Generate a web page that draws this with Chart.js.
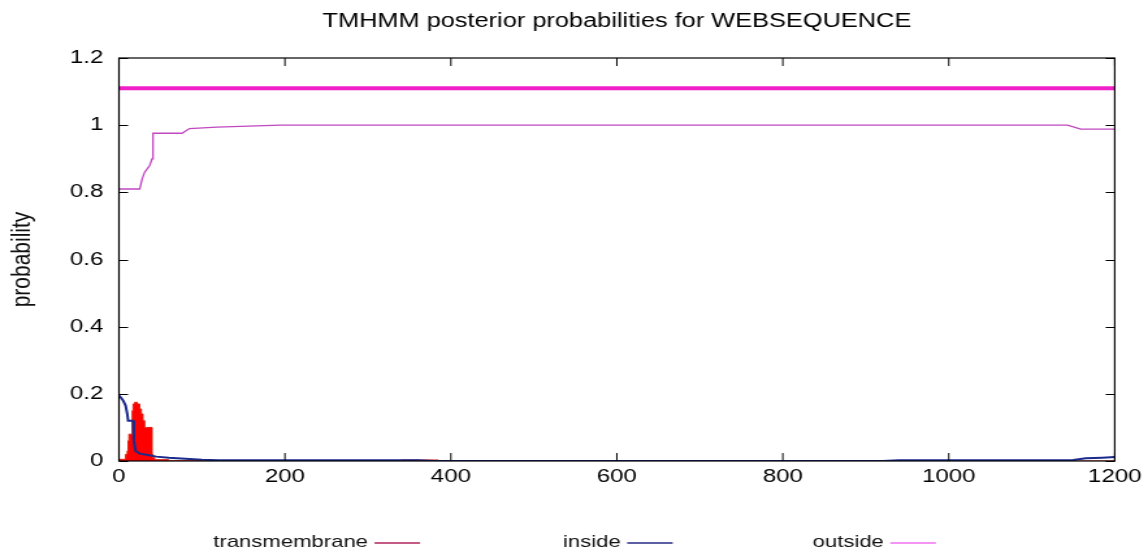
<!DOCTYPE html>
<html>
<head>
<meta charset="utf-8">
<script src="https://cdn.jsdelivr.net/npm/chart.js@4/dist/chart.umd.min.js"></script>
<style>
  html, body { margin: 0; padding: 0; background: #ffffff; overflow: hidden; }
  #wrap { position: relative; width: 1148px; height: 554px; overflow: hidden; }
  #c { position: absolute; left: 0; top: 0; transform: scaleX(1.30011); transform-origin: 0 0; }
</style>
</head>
<body>
<div id="wrap"><canvas id="c" width="883" height="554"></canvas></div>
<script>
// ---- data ----
const chartTitle = "TMHMM posterior probabilities for WEBSEQUENCE";
const yAxisTitle = "probability";
const seriesNames = ["transmembrane", "inside", "outside"];

const xTickValues = [0, 200, 400, 600, 800, 1000, 1200];
const xTickLabels = ["0", "200", "400", "600", "800", "1000", "1200"];
const yTickValues = [0, 0.2, 0.4, 0.6, 0.8, 1.0, 1.2];
const yTickLabels = ["0", "0.2", "0.4", "0.6", "0.8", "1", "1.2"];

// transmembrane posterior (filled)
const tmPos = [0, 8, 10, 11, 12, 14, 16, 17, 19, 22, 25, 27, 29, 31, 33, 40, 41, 43, 60, 100, 200, 340, 360, 385, 400, 1200];
const tmVal = [0, 0.005, 0.02, 0.03, 0.06, 0.08, 0.08, 0.15, 0.17, 0.175, 0.17, 0.155, 0.14, 0.12, 0.10, 0.10, 0.02, 0.01, 0.004, 0.001, 0, 0, 0.003, 0.003, 0, 0];

// inside posterior
const inPos = [0, 2, 5, 8, 10, 11, 17, 18, 20, 25, 35, 45, 60, 80, 100, 120, 360, 380, 920, 940, 1150, 1165, 1185, 1200];
const inVal = [0.195, 0.19, 0.18, 0.165, 0.14, 0.12, 0.12, 0.06, 0.03, 0.022, 0.018, 0.013, 0.01, 0.007, 0.004, 0.002, 0.002, 0, 0, 0.002, 0.003, 0.008, 0.01, 0.012];

// outside posterior
const outPos = [0, 25, 28, 31, 34, 37, 40, 41, 76, 85, 118, 194, 1143, 1159, 1200];
const outVal = [0.81, 0.81, 0.84, 0.86, 0.87, 0.88, 0.9, 0.976, 0.976, 0.99, 0.994, 1.0, 1.0, 0.988, 0.988];

// predicted topology bar (outside over the whole sequence)
const topoPos = [0, 1200];
const topoVal = [1.11, 1.11];

// ---- build points ----
const pts = (xs, ys) => xs.map((x, i) => ({ x: x, y: ys[i] }));

const FONT = "'Liberation Sans', Arial, Helvetica, sans-serif";
const AX_LEFT = 91.5;
const TICK_LEN = 7;

const framePlugin = {
  id: 'frame',
  afterDraw(chart) {
    const ctx = chart.ctx;
    const a = chart.chartArea;
    const xs = chart.scales.x, ys = chart.scales.y;
    ctx.save();
    // frame
    ctx.strokeStyle = '#000';
    ctx.lineWidth = 1.2;
    ctx.strokeRect(a.left, a.top, a.right - a.left, a.bottom - a.top);
    // inward ticks, mirrored
    ctx.lineWidth = 1;
    ctx.beginPath();
    yTickValues.forEach(v => {
      const y = Math.round(ys.getPixelForValue(v)) + 0.5;
      ctx.moveTo(a.left, y); ctx.lineTo(a.left + TICK_LEN, y);
      ctx.moveTo(a.right, y); ctx.lineTo(a.right - TICK_LEN, y);
    });
    xTickValues.forEach(v => {
      const x = xs.getPixelForValue(v);
      ctx.moveTo(x, a.bottom); ctx.lineTo(x, a.bottom - TICK_LEN - 1);
      ctx.moveTo(x, a.top); ctx.lineTo(x, a.top + TICK_LEN + 1);
    });
    ctx.stroke();

    // title
    ctx.fillStyle = '#000';
    ctx.font = "19.5px " + FONT;
    ctx.textAlign = 'center';
    ctx.textBaseline = 'middle';
    ctx.fillText(chartTitle, (a.left + a.right) / 2, 22);

    // y axis title
    ctx.save();
    ctx.translate(17, (a.top + a.bottom) / 2);
    ctx.rotate(-Math.PI / 2);
    ctx.fillStyle = '#111';
    ctx.font = "21px " + FONT;
    ctx.fillText(yAxisTitle, 0, 0);
    ctx.restore();

    // legend: text followed by a line sample
    const legendX = [164, 433, 625];
    const legendColors = ['#b0245c', '#262a86', '#f070f0'];
    ctx.textAlign = 'left';
    ctx.font = "17px " + FONT;
    seriesNames.forEach((name, i) => {
      const x0 = legendX[i];
      const y = 542;
      ctx.fillStyle = '#111';
      ctx.fillText(name, x0, y);
      const w = ctx.measureText(name).width;
      ctx.strokeStyle = legendColors[i];
      ctx.lineWidth = 1.5;
      ctx.beginPath();
      ctx.moveTo(x0 + w + 5, y + 1);
      ctx.lineTo(x0 + w + 40, y + 1);
      ctx.stroke();
    });
    ctx.restore();
  }
};

new Chart(document.getElementById('c'), {
  type: 'line',
  data: {
    datasets: [
      {
        label: seriesNames[0],
        data: pts(tmPos, tmVal),
        stepped: 'after',
        borderColor: '#e02010',
        backgroundColor: '#ff0000',
        borderWidth: 1,
        fill: 'origin',
        pointRadius: 0,
        order: 4
      },
      {
        label: seriesNames[1],
        data: pts(inPos, inVal),
        borderColor: '#1c2a8c',
        borderWidth: 2,
        fill: false,
        pointRadius: 0,
        order: 3
      },
      {
        label: seriesNames[2],
        data: pts(outPos, outVal),
        borderColor: '#c048c0',
        borderWidth: 1.3,
        fill: false,
        pointRadius: 0,
        order: 2
      },
      {
        label: 'topology',
        data: pts(topoPos, topoVal),
        borderColor: '#f020c8',
        borderWidth: 4,
        fill: false,
        pointRadius: 0,
        order: 1
      }
    ]
  },
  options: {
    responsive: false,
    animation: false,
    devicePixelRatio: 1,
    layout: { padding: { left: 0, right: 23.8, top: 58, bottom: 63 } },
    plugins: {
      legend: { display: false },
      title: { display: false },
      tooltip: { enabled: false }
    },
    scales: {
      x: {
        type: 'linear',
        min: 0, max: 1200,
        afterBuildTicks(scale) { scale.ticks = xTickValues.map(v => ({ value: v })); },
        ticks: {
          callback: (v) => xTickLabels[xTickValues.indexOf(v)],
          font: { family: FONT, size: 18.5 },
          color: '#000',
          padding: 5,
          maxRotation: 0,
          autoSkip: false
        },
        grid: { display: false, drawTicks: false },
        border: { display: false },
        afterFit(scale) { scale.height = 30; }
      },
      y: {
        type: 'linear',
        min: 0, max: 1.2,
        afterBuildTicks(scale) { scale.ticks = yTickValues.map(v => ({ value: v })); },
        ticks: {
          callback: (v) => yTickLabels[yTickValues.findIndex(t => Math.abs(t - v) < 1e-9)],
          font: { family: FONT, size: 18.5 },
          color: '#000',
          padding: 12,
          autoSkip: false
        },
        grid: { display: false, drawTicks: false },
        border: { display: false },
        afterFit(scale) { scale.width = AX_LEFT; }
      }
    }
  },
  plugins: [framePlugin]
});
</script>
</body>
</html>
